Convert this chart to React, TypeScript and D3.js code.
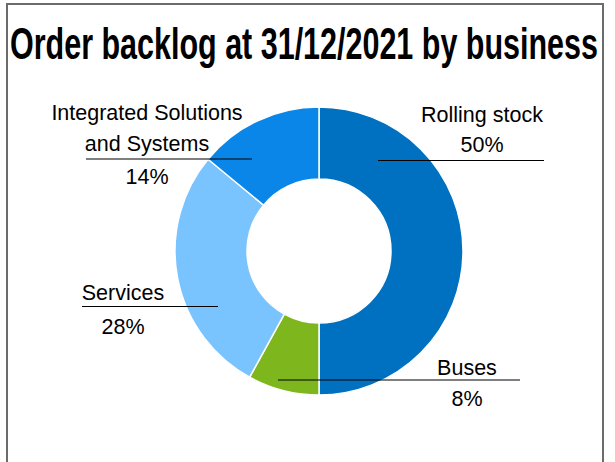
import React, { useLayoutEffect, useRef, useState } from "react";
import * as d3 from "d3";

const categories = ["Rolling stock", "Buses", "Services", "Integrated Solutions and Systems"];
const values = [50, 8, 28, 14];
const labelLines = [["Rolling stock"], ["Buses"], ["Services"], ["Integrated Solutions", "and Systems"]];
const colors = ["#0070C0", "#7EB61E", "#79C3FF", "#0A86E8"];
const titleText = "Order backlog at 31/12/2021 by business";

// label layout (positions only)
const labelLayout = [
  { x: 482, y: 122, pctDy: 30, lineY: 160.5, x1: 378, x2: 544 },
  { x: 467, y: 375, pctDy: 31, lineY: 380, x1: 278, x2: 520 },
  { x: 123, y: 300, pctDy: 34, lineY: 306.5, x1: 82, x2: 218 },
  { x: 147, y: 120, pctDy: 33, lineY: 159, x1: 86, x2: 252 },
];

const W = 615;
const H = 462;
const cx = 319;
const cy = 251;
const outerR = 144;
const innerR = 72;
const titleWidth = 588;

export default function App() {
  const titleRef = useRef<SVGTextElement>(null);
  const [sx, setSx] = useState(0.693);
  useLayoutEffect(() => {
    if (titleRef.current) {
      const w = titleRef.current.getComputedTextLength();
      if (w > 0) setSx(titleWidth / w);
    }
  }, []);

  const pie = d3.pie<number>().sort(null).value((d) => d);
  const arcs = pie(values);
  const arc = d3.arc<d3.PieArcDatum<number>>().innerRadius(innerR).outerRadius(outerR);
  const total = d3.sum(values);
  const lineH = 31;

  return (
    <svg
      width={W}
      height={H}
      style={{ position: "absolute", left: 0, top: 0, background: "#fff" }}
      fontFamily="'Liberation Sans', Arial, sans-serif"
    >
      <rect x={0} y={0} width={W} height={H} fill="#fff" />
      <path d={`M7,${H + 5} V4 H603 V${H + 5}`} fill="none" stroke="#6b6b6b" strokeWidth={2} />
      <g transform={`translate(10,59) scale(${sx},1)`}>
        <text ref={titleRef} x={0} y={0} fontSize={44} fontWeight="bold" fill="#000">
          {titleText}
        </text>
      </g>
      <g transform={`translate(${cx},${cy})`}>
        {arcs.map((a, i) => (
          <path key={categories[i]} d={arc(a) || ""} fill={colors[i]} stroke="#fff" strokeWidth={1.5} />
        ))}
      </g>
      {arcs.map((a, i) => {
        const L = labelLayout[i];
        const lines = labelLines[i];
        const pct = `${d3.format(".0f")((values[i] / total) * 100)}%`;
        return (
          <g key={"lbl" + i}>
            <line x1={L.x1} x2={L.x2} y1={L.lineY} y2={L.lineY} stroke="#000" strokeWidth={1.2} />
            {lines.map((t, j) => (
              <text key={j} x={L.x} y={L.y + j * lineH} fontSize={21.5} textAnchor="middle" fill="#000">
                {t}
              </text>
            ))}
            <text
              x={L.x}
              y={L.y + (lines.length - 1) * lineH + L.pctDy}
              fontSize={21.5}
              textAnchor="middle"
              fill="#000"
            >
              {pct}
            </text>
          </g>
        );
      })}
    </svg>
  );
}
